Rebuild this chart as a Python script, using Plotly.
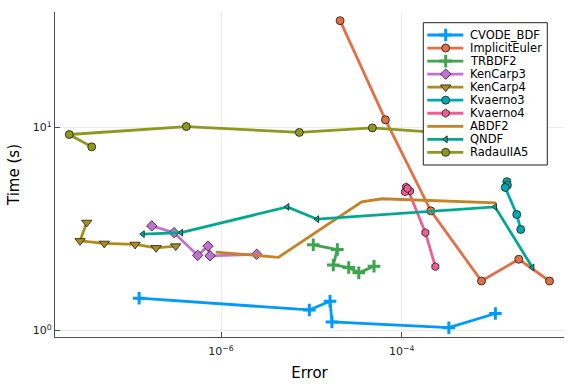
import plotly.graph_objects as go

# ---------------- data (log-log: Error vs Time (s)) ----------------
names = ["CVODE_BDF", "ImplicitEuler", "TRBDF2", "KenCarp3", "KenCarp4",
         "Kvaerno3", "Kvaerno4", "ABDF2", "QNDF", "RadauIIA5"]

cvode_err = [1.24e-7, 9.5e-6, 1.61e-5, 1.69e-5, 3.33e-4, 1.09e-3]
cvode_time = [1.44, 1.26, 1.39, 1.10, 1.03, 1.21]

ie_err = [2.08e-5, 6.61e-5, 2.10e-4, 7.64e-4, 1.98e-3, 4.33e-3]
ie_time = [33.6, 10.9, 3.88, 1.75, 2.24, 1.75]

trbdf2_err = [1.05e-5, 1.94e-5, 1.75e-5, 2.59e-5, 3.35e-5, 4.94e-5]
trbdf2_time = [2.64, 2.50, 2.10, 2.04, 1.92, 2.07]

kc3_err = [1.71e-7, 3.02e-7, 5.52e-7, 7.18e-7, 7.55e-7, 2.48e-6]
kc3_time = [3.27, 3.03, 2.34, 2.60, 2.33, 2.37]

kc4_err = [3.26e-8, 2.75e-8, 5.10e-8, 1.12e-7, 1.91e-7, 3.15e-7]
kc4_time = [3.40, 2.76, 2.68, 2.65, 2.55, 2.60]

kv3_err = [1.46e-3, 1.48e-3, 1.40e-3, 1.88e-3, 2.08e-3]
kv3_time = [5.40, 5.19, 5.06, 3.72, 3.14]

kv4_err = [1.12e-4, 1.24e-4, 1.09e-4, 1.16e-4, 1.83e-4, 2.36e-4]
kv4_time = [5.09, 4.86, 4.81, 5.00, 3.03, 2.06]

abdf2_err = [8.73e-7, 4.32e-6, 3.61e-5, 6.03e-5, 1.11e-3]
abdf2_time = [2.43, 2.29, 4.30, 4.45, 4.25]

qndf_err = [1.36e-7, 3.61e-7, 5.42e-6, 1.16e-5, 1.08e-3, 2.80e-3]
qndf_time = [2.98, 3.03, 4.06, 3.53, 4.06, 2.04]

radau_err = [3.70e-8, 2.09e-8, 4.13e-7, 7.36e-6, 4.74e-5, 4.44e-4]
radau_time = [8.02, 9.23, 10.1, 9.45, 9.95, 9.27]

series_err = [cvode_err, ie_err, trbdf2_err, kc3_err, kc4_err,
              kv3_err, kv4_err, abdf2_err, qndf_err, radau_err]
series_time = [cvode_time, ie_time, trbdf2_time, kc3_time, kc4_time,
               kv3_time, kv4_time, abdf2_time, qndf_time, radau_time]

x_tickvals = [1e-6, 1e-4]
x_ticktext = ["10<sup>−6</sup>", "10<sup>−4</sup>"]
y_tickvals = [1, 10]
y_ticktext = ["10<sup>0</sup>", "10<sup>1</sup>"]

# ---------------- styles ----------------
colors = ["#009AFA", "#E36F47", "#3EA44E", "#C271D2", "#AC8E18",
          "#00A9AD", "#ED5E93", "#C68225", "#00A98D", "#8E971E"]
symbols = ["cross-thin", "circle", "cross-thin", "diamond", "triangle-down",
           "circle", "hexagon", None, "triangle-left", "circle"]
sizes = [9, 8, 9, 8, 9, 8, 8, 0, 6, 8]

FONT = "DejaVu Sans"
W, H = 576, 384
ML, MR, MT, MB = 55, 12, 12, 47
PW, PH = W - ML - MR, H - MT - MB


def px2paper(px, py):
    return (px - ML) / PW, (H - MB - py) / PH


def marker_style(i):
    s = symbols[i]
    if s is None:
        return dict(size=0, opacity=0)
    if s == "cross-thin":
        return dict(symbol=s, size=sizes[i], color=colors[i],
                    line=dict(color=colors[i], width=3))
    return dict(symbol=s, size=sizes[i], color=colors[i],
                line=dict(color="#1a1a1a", width=0.8))


fig = go.Figure()

for i, nm in enumerate(names):
    mode = "lines" if symbols[i] is None else "lines+markers"
    fig.add_trace(go.Scatter(
        x=series_err[i], y=series_time[i], mode=mode, name=nm,
        line=dict(color=colors[i], width=2.8),
        marker=marker_style(i), showlegend=False,
        xaxis="x", yaxis="y"))

# ---------------- custom legend (compact, like the reference) ----------------
bx0, by1 = px2paper(423.3, 22.7)
bx1, by0 = px2paper(547.3, 165)
fig.add_trace(go.Scatter(
    x=[bx0, bx1, bx1, bx0, bx0], y=[by0, by0, by1, by1, by0],
    mode="lines", fill="toself", fillcolor="white",
    line=dict(color="#222222", width=1), hoverinfo="skip",
    showlegend=False, xaxis="x2", yaxis="y2"))

row0, row_gap = 35.0, 13.04
lx0, _ = px2paper(427.3, 0)
lx1, _ = px2paper(463.3, 0)
mx, _ = px2paper(445.7, 0)
tx, _ = px2paper(467.5, 0)
for i, nm in enumerate(names):
    _, yy = px2paper(0, row0 + row_gap * i)
    fig.add_trace(go.Scatter(
        x=[lx0, lx1], y=[yy, yy], mode="lines",
        line=dict(color=colors[i], width=2.8), hoverinfo="skip",
        showlegend=False, xaxis="x2", yaxis="y2"))
    if symbols[i] is not None:
        fig.add_trace(go.Scatter(
            x=[mx], y=[yy], mode="markers", marker=marker_style(i),
            hoverinfo="skip", showlegend=False, xaxis="x2", yaxis="y2"))
    fig.add_annotation(x=tx, y=yy, xref="x2", yref="y2", text=nm,
                       showarrow=False, xanchor="left", yanchor="middle",
                       font=dict(family=FONT, size=11.5, color="#000000"))

axis_common = dict(
    type="log", showgrid=True, gridcolor="#ececec", gridwidth=0.8,
    showline=True, linecolor="#4d4d4d", linewidth=1.2,
    ticks="inside", ticklen=5, tickcolor="#4d4d4d", tickwidth=1,
    zeroline=False, mirror=False, automargin=False,
    tickfont=dict(family=FONT, size=11, color="#222222"),
)

fig.update_layout(
    width=W, height=H,
    margin=dict(l=ML, r=MR, t=MT, b=MB),
    paper_bgcolor="white", plot_bgcolor="white",
    showlegend=False,
    font=dict(family=FONT),
    xaxis=dict(axis_common, range=[-7.838, -2.203],
               tickvals=x_tickvals, ticktext=x_ticktext,
               ticklabelstandoff=4,
               title=dict(text="Error", font=dict(family=FONT, size=15, color="#000"),
                          standoff=10)),
    yaxis=dict(axis_common, range=[-0.033, 1.569],
               tickvals=y_tickvals, ticktext=y_ticktext,
               title=dict(text="Time (s)", font=dict(family=FONT, size=15, color="#000"),
                          standoff=9)),
    xaxis2=dict(overlaying="x", anchor="y2", domain=[0, 1], range=[0, 1],
                visible=False, fixedrange=True, automargin=False),
    yaxis2=dict(overlaying="y", anchor="x2", domain=[0, 1], range=[0, 1],
                visible=False, fixedrange=True, automargin=False),
)

fig.write_html("out.html",
               config={"displayModeBar": False},
               post_script="document.body.style.margin='0';"
                           "document.body.style.padding='0';")
